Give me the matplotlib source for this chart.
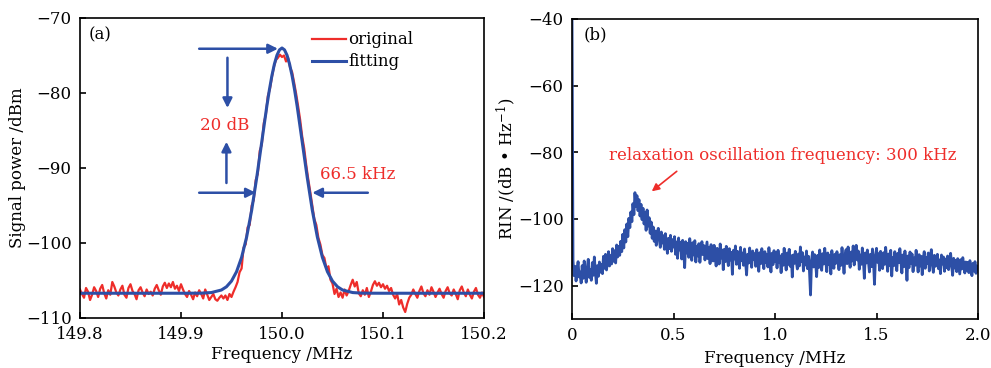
import numpy as np
import matplotlib
matplotlib.use("Agg")
import matplotlib.pyplot as plt

plt.rcParams['font.family'] = ['DejaVu Serif']
plt.rcParams['mathtext.fontset'] = 'dejavuserif'
plt.rcParams['font.size'] = 12

RED = '#ee2d2a'
BLUE = '#2d4fa6'

# ---- panel (a): beat note spectrum, sampled every 2 kHz from 149.8 to 150.2 MHz
freq_a = np.linspace(149.8, 150.2, 201)
original_dbm = [
    -106.2, -106.8, -107.3, -106.0, -106.5, -107.6, -106.9, -105.9, -106.4, -107.2,
    -106.1, -105.6, -106.7, -107.4, -106.3, -106.9, -105.2, -105.8, -106.6, -107.0,
    -106.2, -105.7, -106.9, -107.3, -106.0, -105.5, -106.4, -106.8, -107.5, -106.3,
    -105.9, -106.6, -107.1, -106.2, -106.8, -106.5, -107.0, -106.1, -105.6, -106.3,
    -106.9, -105.8, -105.3, -106.0, -105.4, -105.9, -105.2, -106.1, -105.7, -106.4,
    -105.5, -106.2, -106.8, -107.2, -106.4, -106.9, -107.5, -106.6, -107.1, -106.3,
    -106.8, -107.4, -106.2, -106.9, -107.6, -107.2, -106.8, -107.5, -107.7, -107.3,
    -107.0, -107.4, -107.0, -107.6, -106.8, -107.2, -106.5, -105.9, -105.2, -103.9,
    -103.4, -100.6, -100.2, -97.9, -97.6, -95.0, -94.3, -91.6, -90.8, -87.7,
    -86.9, -84.0, -82.9, -80.4, -79.5, -77.9, -76.5, -75.6, -75.3, -74.9,
    -75.2, -75.0, -75.8, -75.3, -76.6, -77.2, -78.6, -80.1, -81.8, -83.6,
    -85.8, -87.4, -89.6, -91.5, -93.2, -95.0, -96.8, -97.6, -99.3, -100.2,
    -101.6, -102.0, -103.4, -103.1, -104.9, -105.4, -106.8, -106.1, -107.2, -106.6,
    -107.3, -106.2, -107.0, -106.4, -105.6, -104.9, -105.8, -105.2, -106.7, -107.1,
    -106.3, -106.9, -106.0, -107.2, -106.5, -105.6, -105.1, -105.7, -105.3, -105.9,
    -105.5, -106.1, -105.7, -106.4, -106.0, -106.9, -107.4, -106.8, -108.2, -107.6,
    -108.6, -109.2, -108.1, -107.3, -106.9, -106.2, -106.8, -107.3, -106.4, -105.8,
    -106.7, -107.1, -106.3, -106.9, -105.9, -106.5, -107.2, -106.6, -106.1, -106.8,
    -107.3, -106.4, -105.9, -106.7, -107.0, -106.2, -106.8, -107.5, -106.3, -105.8,
    -106.6, -107.1, -106.2, -106.9, -107.4, -106.5, -106.0, -106.9, -107.3, -106.6,
    -107.2,
]

fit_freq = [149.80, 149.90, 149.92, 149.93, 149.94, 149.945, 149.95, 149.955,
            149.96, 149.965, 149.97, 149.975, 149.98, 149.985, 149.9875, 149.99,
            149.9925, 149.995, 149.9975, 150.0, 150.0025, 150.005, 150.0075,
            150.01, 150.0125, 150.015, 150.02, 150.025, 150.03, 150.035, 150.04,
            150.045, 150.05, 150.055, 150.06, 150.07, 150.08, 150.10, 150.20]
fit_dbm = [-106.7, -106.7, -106.69, -106.61, -106.27, -105.84, -105.08, -103.83,
           -101.92, -99.2, -95.62, -91.27, -86.5, -81.74, -79.6, -77.7,
           -76.14, -74.97, -74.25, -74.0, -74.25, -74.97, -76.14,
           -77.7, -79.6, -81.74, -86.5, -91.27, -95.62, -99.2, -101.92,
           -103.83, -105.08, -105.84, -106.27, -106.61, -106.69, -106.7, -106.7]

# ---- panel (b): relative intensity noise, every 5 kHz from 0 to 2 MHz
freq_b = np.linspace(0.0, 2.0, 401)
rin_db = [
    -38.0, -112.5, -117.0, -114.2, -118.6, -115.1, -112.8, -117.4, -115.9, -119.2,
    -114.0, -117.8, -112.6, -116.3, -119.0, -114.7, -112.1, -117.5, -115.2, -118.4,
    -113.1, -116.9, -111.4, -115.8, -119.3, -114.0, -117.2, -112.9, -116.0, -113.6,
    -116.4, -111.2, -114.8, -110.6, -115.3, -112.4, -109.8, -114.1, -111.0, -113.5,
    -108.9, -112.7, -109.5, -113.2, -107.8, -111.4, -108.2, -110.9, -106.7, -109.8,
    -104.6, -108.7, -103.2, -106.9, -101.5, -105.3, -99.8, -102.6, -97.9, -100.8,
    -95.4, -98.7, -92.1, -96.3, -93.0, -97.5, -94.2, -99.1, -95.6, -100.2,
    -96.8, -101.5, -98.0, -103.4, -97.3, -102.1, -99.6, -104.3, -100.9, -105.8,
    -102.4, -106.7, -103.6, -107.9, -104.1, -102.8, -106.3, -108.5, -103.9, -107.2,
    -105.0, -109.1, -104.4, -107.6, -110.3, -105.8, -108.9, -104.9, -109.7, -106.2,
    -108.4, -105.3, -110.6, -106.9, -111.8, -105.7, -109.3, -107.0, -112.0, -106.4,
    -109.9, -114.6, -106.8, -110.2, -107.3, -111.5, -105.9, -109.6, -112.4, -107.1,
    -110.8, -106.5, -112.9, -108.3, -111.1, -107.4, -113.0, -109.2, -106.8, -110.7,
    -108.0, -112.3, -109.5, -106.9, -111.9, -108.6, -113.4, -107.7, -110.9, -112.6,
    -107.9, -111.2, -114.1, -108.8, -110.4, -113.5, -107.5, -111.7, -109.3, -115.2,
    -109.1, -112.8, -108.2, -111.6, -114.0, -108.9, -112.3, -110.0, -116.6, -109.4,
    -112.0, -108.1, -113.6, -109.7, -111.3, -114.8, -108.5, -112.5, -110.2, -113.9,
    -109.0, -112.9, -116.8, -110.6, -113.2, -108.7, -111.8, -114.5, -109.6, -112.1,
    -110.4, -114.2, -109.2, -112.6, -115.7, -110.1, -113.4, -108.9, -111.5, -114.9,
    -109.8, -113.1, -110.7, -114.4, -108.6, -112.2, -115.9, -110.3, -113.7, -109.5,
    -112.8, -110.0, -114.7, -109.4, -113.0, -111.2, -116.1, -110.6, -113.9, -108.8,
    -112.4, -115.3, -110.2, -113.6, -109.1, -114.2, -111.0, -117.4, -110.8, -113.3,
    -109.7, -112.9, -115.0, -110.5, -114.1, -108.4, -112.7, -110.1, -115.6, -111.4,
    -113.8, -109.6, -114.9, -111.2, -116.0, -122.8, -112.3, -109.9, -114.4, -110.7,
    -113.1, -117.3, -110.9, -114.6, -109.3, -112.8, -115.4, -110.4, -113.5, -108.8,
    -112.6, -115.8, -110.2, -113.7, -111.0, -116.5, -109.5, -112.9, -114.8, -110.6,
    -113.3, -109.8, -112.1, -115.2, -110.7, -113.9, -108.6, -112.4, -116.3, -110.9,
    -109.2, -113.4, -108.4, -111.8, -114.5, -109.9, -112.6, -108.1, -113.8, -110.4,
    -107.9, -112.3, -109.6, -115.1, -110.8, -113.6, -108.7, -111.9, -117.8, -110.2,
    -113.2, -109.3, -112.7, -115.9, -110.6, -114.3, -109.0, -112.5, -119.6, -111.3,
    -108.8, -113.0, -110.4, -115.4, -109.7, -112.8, -114.9, -110.1, -113.6, -108.5,
    -112.2, -115.7, -110.5, -113.9, -109.4, -117.1, -111.6, -114.0, -109.8, -112.9,
    -115.5, -110.3, -113.1, -108.9, -112.4, -116.2, -110.8, -114.3, -109.6, -112.7,
    -118.4, -111.1, -114.6, -109.9, -113.3, -110.5, -115.8, -111.7, -113.9, -109.4,
    -112.6, -115.9, -110.7, -114.1, -111.2, -116.7, -112.0, -109.8, -114.8, -111.5,
    -113.4, -110.2, -115.6, -111.9, -109.2, -113.7, -116.0, -110.9, -114.2, -112.1,
    -110.6, -114.9, -112.3, -116.4, -110.8, -113.5, -111.4, -115.7, -112.0, -114.6,
    -111.1, -115.2, -112.7, -110.3, -114.0, -116.9, -111.8, -114.7, -112.4, -115.8,
    -111.9, -114.3, -116.5, -112.2, -115.0, -111.6, -113.8, -116.2, -112.9, -115.4,
    -113.0, -116.1, -112.5, -114.9, -117.0, -113.3, -115.6, -112.8, -116.3, -114.1,
    -115.0,
]

fig = plt.figure(figsize=(9.91, 3.68), dpi=100)
ax1 = fig.add_axes([0.0807, 0.1359, 0.4077, 0.8152])
ax2 = fig.add_axes([0.5772, 0.1332, 0.4097, 0.8152])

for ax in (ax1, ax2):
    for s in ax.spines.values():
        s.set_linewidth(1.2)
    ax.tick_params(direction='in', length=4, width=1.2, labelsize=12,
                   top=False, right=False, pad=6)

# step1 panel (a)
ax1.plot(freq_a, original_dbm, color=RED, lw=1.6, label='original')
ax1.plot(fit_freq, fit_dbm, color=BLUE, lw=2.2, label='fitting')
ax1.set_xlim(149.8, 150.2)
ax1.set_ylim(-110, -70)
ax1.set_xticks([149.8, 149.9, 150.0, 150.1, 150.2])
ax1.set_xticklabels(['149.8', '149.9', '150.0', '150.1', '150.2'])
ax1.set_yticks([-110, -100, -90, -80, -70])
ax1.set_xlabel('Frequency /MHz', labelpad=2)
ax1.set_ylabel('Signal power /dBm', labelpad=0)
ax1.text(0.05, 0.943, '(a)', transform=ax1.transAxes, ha='center', va='center')
ax1.legend(loc='upper left', bbox_to_anchor=(0.575, 0.955), frameon=False,
           handlelength=2.0, handletextpad=0.15, labelspacing=0.3,
           borderaxespad=0, borderpad=0, fontsize=12)

arrow = dict(arrowstyle='-|>', color=BLUE, lw=1.8, mutation_scale=14,
             shrinkA=0, shrinkB=0)
ax1.annotate('', xy=(149.996, -74.1), xytext=(149.918, -74.1), arrowprops=arrow)
ax1.annotate('', xy=(149.946, -82.0), xytext=(149.946, -75.3), arrowprops=arrow)
ax1.annotate('', xy=(149.945, -86.5), xytext=(149.945, -92.0), arrowprops=arrow)
ax1.annotate('', xy=(149.974, -93.3), xytext=(149.918, -93.3), arrowprops=arrow)
ax1.annotate('', xy=(150.030, -93.3), xytext=(150.085, -93.3), arrowprops=arrow)
ax1.text(149.943, -84.3, '20 dB', color=RED, ha='center', va='center')
ax1.text(150.075, -90.9, '66.5 kHz', color=RED, ha='center', va='center')

# step2 panel (b)
ax2.plot(freq_b, rin_db, color=BLUE, lw=2.0)
ax2.set_xlim(0, 2.0)
ax2.set_ylim(-130, -40)
ax2.set_xticks([0, 0.5, 1.0, 1.5, 2.0])
ax2.set_xticklabels(['0', '0.5', '1.0', '1.5', '2.0'])
ax2.set_yticks([-120, -100, -80, -60, -40])
ax2.set_xlabel('Frequency /MHz', labelpad=4)
ax2.set_ylabel('RIN /(dB \u2022 Hz$^{-1}$)', labelpad=0)
ax2.text(0.057, 0.947, '(b)', transform=ax2.transAxes, ha='center', va='center')
ax2.text(1.04, -81.0, 'relaxation oscillation frequency: 300 kHz', color=RED,
         ha='center', va='center', fontsize=12)
ax2.annotate('', xy=(0.393, -91.7), xytext=(0.516, -85.7),
             arrowprops=dict(arrowstyle='-|>', color=RED, lw=1.2,
                             mutation_scale=11, shrinkA=0, shrinkB=0))

fig.savefig('out.png', dpi=100)
